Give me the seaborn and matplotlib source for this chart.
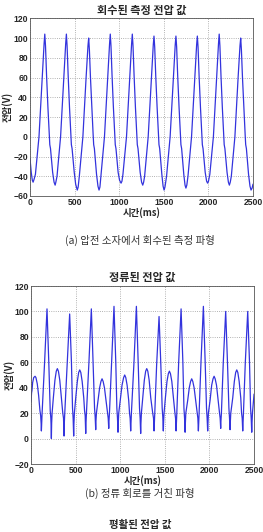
import pandas as pd
import matplotlib.pyplot as plt
import seaborn as sns

t_a = [0, 14, 26, 35, 46, 61, 101, 137, 158, 166, 174, 186, 201, 216, 222, 230, 254, 270, 282,
       290, 303, 343, 379, 400, 408, 416, 428, 443, 458, 464, 472, 496, 512, 530,
       540, 553, 593, 629, 650, 658, 666, 678, 693, 708, 714, 722, 746, 762, 774,
       784, 795, 835, 871, 892, 900, 908, 920, 935, 950, 956, 964, 988, 1004, 1021,
       1031, 1042, 1082, 1118, 1139, 1147, 1155, 1167, 1182, 1197, 1203, 1211, 1235, 1251, 1264,
       1274, 1285, 1325, 1361, 1382, 1390, 1398, 1410, 1425, 1440, 1446, 1454, 1478, 1492, 1503,
       1513, 1531, 1571, 1607, 1628, 1636, 1644, 1656, 1671, 1686, 1692, 1700, 1724, 1738, 1748,
       1758, 1771, 1811, 1847, 1868, 1876, 1884, 1896, 1911, 1926, 1932, 1940, 1964, 1980, 1991,
       2001, 2016, 2056, 2092, 2113, 2121, 2129, 2141, 2156, 2171, 2177, 2185, 2209, 2224, 2235,
       2245, 2257, 2297, 2333, 2354, 2362, 2370, 2382, 2397, 2412, 2418, 2426, 2450, 2466, 2478,
       2490, 2500]
v_a = [-22, -36, -44, -46, -43, -38, 0, 60, 94, 104, 92, 62, 30, 2, -8, -12, -36, -46, -49,
       -46, -40, 0, 60, 94, 104, 92, 62, 30, 2, -8, -12, -36, -48, -54,
       -51, -40, 0, 60, 92, 100, 88, 60, 30, 2, -8, -12, -38, -50, -54,
       -51, -40, 0, 60, 94, 104, 92, 62, 30, 2, -8, -12, -36, -44, -47,
       -45, -38, 0, 60, 94, 104, 92, 62, 30, 2, -8, -12, -36, -46, -49,
       -46, -40, 0, 60, 93, 102, 91, 61, 30, 2, -8, -12, -38, -50, -54,
       -51, -40, 0, 60, 93, 102, 91, 61, 30, 2, -8, -12, -38, -49, -52,
       -49, -40, 0, 60, 93, 102, 91, 61, 30, 2, -8, -12, -36, -45, -47,
       -45, -38, 0, 60, 94, 104, 92, 62, 30, 2, -8, -12, -36, -46, -49,
       -46, -40, 0, 60, 92, 100, 88, 60, 30, 2, -8, -12, -38, -50, -54,
       -52, -48]

# voltage after the rectifier circuit
t_b = [0, 6, 11, 18, 30, 45, 55, 70, 85, 100, 108, 113, 116, 119, 124,
       152, 179, 199, 215, 222, 225, 228, 231, 236,
       250, 268, 283, 295, 307, 322, 340, 356, 364, 367, 370, 373, 378,
       406, 433, 453, 465, 472, 475, 478, 481, 486,
       501, 519, 534, 546, 558, 573, 591, 600, 607, 610, 613, 616, 621,
       649, 676, 696, 712, 719, 722, 725, 728, 733,
       751, 769, 784, 796, 808, 823, 841, 858, 865, 868, 871, 874, 879,
       903, 930, 950, 962, 969, 972, 975, 978, 983,
       1000, 1020, 1038, 1050, 1062, 1077, 1095, 1104, 1111, 1114, 1117, 1120, 1125,
       1154, 1181, 1201, 1216, 1223, 1226, 1229, 1232, 1237,
       1252, 1270, 1285, 1297, 1309, 1324, 1342, 1364, 1373, 1376, 1379, 1382, 1387,
       1408, 1435, 1455, 1470, 1477, 1480, 1483, 1486, 1491,
       1506, 1524, 1539, 1551, 1563, 1578, 1596, 1613, 1620, 1623, 1626, 1629, 1634,
       1655, 1682, 1702, 1714, 1721, 1724, 1727, 1730, 1735,
       1756, 1774, 1789, 1801, 1813, 1828, 1846, 1863, 1870, 1873, 1876, 1879, 1884,
       1905, 1932, 1952, 1967, 1974, 1977, 1980, 1983, 1988,
       2007, 2025, 2040, 2052, 2064, 2079, 2097, 2113, 2120, 2123, 2126, 2129, 2134,
       2155, 2182, 2202, 2218, 2225, 2228, 2231, 2234, 2239,
       2261, 2279, 2294, 2306, 2318, 2333, 2351, 2360, 2367, 2370, 2373, 2376, 2381,
       2402, 2429, 2449, 2461, 2468, 2471, 2474, 2477, 2482,
       2492, 2500]
v_b = [29, 36, 38, 44, 48, 49, 48, 43, 34, 22, 18, 12, 6, 12, 20,
       60, 102, 60, 22, 16, 10, 0, 12, 20,
       32, 46, 53, 55, 53, 46, 32, 20, 16, 10, 2, 12, 20,
       60, 98, 60, 24, 16, 10, 2, 12, 20,
       32, 45, 52, 54, 52, 45, 32, 22, 18, 12, 4, 12, 20,
       60, 102, 60, 24, 17, 12, 7, 14, 20,
       30, 40, 45, 47, 45, 40, 30, 20, 16, 12, 8, 14, 20,
       60, 104, 60, 24, 16, 10, 5, 12, 20,
       30, 42, 48, 50, 48, 42, 30, 20, 16, 10, 6, 12, 20,
       60, 104, 60, 24, 16, 10, 4, 12, 20,
       32, 46, 53, 55, 53, 46, 32, 20, 16, 10, 6, 12, 20,
       58, 96, 58, 24, 17, 12, 6, 13, 20,
       32, 45, 51, 53, 51, 45, 32, 20, 16, 10, 6, 12, 20,
       60, 102, 60, 24, 16, 10, 5, 12, 20,
       30, 40, 45, 47, 45, 40, 30, 20, 16, 10, 6, 12, 20,
       60, 104, 60, 24, 16, 10, 6, 12, 20,
       30, 42, 47, 49, 47, 42, 30, 20, 16, 12, 8, 14, 20,
       60, 100, 60, 24, 16, 10, 7, 13, 20,
       32, 45, 52, 54, 52, 45, 32, 20, 16, 10, 6, 12, 20,
       60, 100, 60, 24, 16, 10, 5, 12, 20,
       28, 35]

x_ticks = [0, 500, 1000, 1500, 2000, 2500]
y_ticks_a = list(range(-60, 121, 20))
y_ticks_b = list(range(-20, 121, 20))

title_a = '회수된 측정 전압 값'
title_b = '정류된 전압 값'
title_c = '평활된 전압 값'
cap_a = '(a) 압전 소자에서 회수된 측정 파형'
cap_b = '(b) 정류 회로를 거친 파형'
xlab = '시간(ms)'
ylab = '전압(V)'

sns.set_style("white")
plt.rcParams['font.family'] = ['Noto Sans CJK KR', 'DejaVu Sans']

fig = plt.figure(figsize=(2.63, 5.32), dpi=100)
ax_a = fig.add_axes([0.114, 0.6316, 0.848, 0.334])
ax_b = fig.add_axes([0.118, 0.1278, 0.848, 0.3346])

df_a = pd.DataFrame({'t': t_a, 'v': v_a})
df_b = pd.DataFrame({'t': t_b, 'v': v_b})

for ax, df, yt in [(ax_a, df_a, y_ticks_a), (ax_b, df_b, y_ticks_b)]:
    sns.lineplot(data=df, x='t', y='v', ax=ax, color='#3333dd', linewidth=0.9,
                 sort=False, estimator=None)
    ax.set_xlim(0, 2500)
    ax.set_ylim(yt[0], yt[-1])
    ax.set_xticks(x_ticks)
    ax.set_yticks(yt)
    ax.grid(True, linestyle=':', color='#999999', linewidth=0.6)
    ax.tick_params(direction='in', length=2, width=0.5, pad=1.5, labelsize=6.2)
    for lab in ax.get_xticklabels() + ax.get_yticklabels():
        lab.set_fontweight('bold')
        lab.set_family(['Liberation Sans', 'DejaVu Sans'])
    for sp in ax.spines.values():
        sp.set_color('#555555')
        sp.set_linewidth(0.6)
    ax.set_xlabel(xlab, fontsize=6.8, fontweight='bold', labelpad=0)
    ax.set_ylabel(ylab, fontsize=6.8, fontweight='bold', labelpad=0)

ax_a.set_title(title_a, fontsize=8, fontweight='bold', pad=3)
ax_b.set_title(title_b, fontsize=8, fontweight='bold', pad=4)

fig.text(0.532, 0.549, cap_a, ha='center', va='center', fontsize=7.5, color='#333333')
fig.text(0.532, 0.073, cap_b, ha='center', va='center', fontsize=7.5, color='#333333')
fig.text(0.532, 0.003, title_c, ha='center', va='bottom', fontsize=7.5,
         fontweight='bold')

fig.savefig('out.png', dpi=100)
plt.close(fig)
